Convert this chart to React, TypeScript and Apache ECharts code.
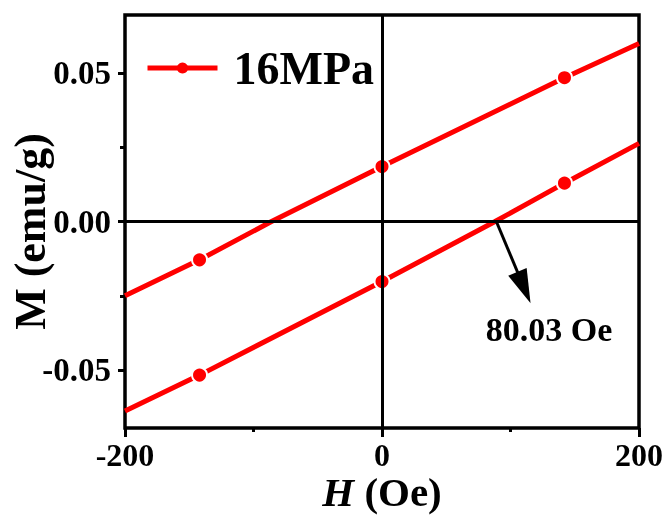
import React, { useEffect, useRef } from 'react';
import * as echarts from 'echarts';

// Hysteresis branches (H in Oe, M in emu/g)
const upperH = [-200, -142, -86, 0, 142, 200];
const upperM = [-0.025, -0.0129, 0, 0.0185, 0.0484, 0.0599];
const lowerH = [-200, -142, 0, 88, 142, 200];
const lowerM = [-0.0638, -0.0517, -0.0202, 0, 0.0129, 0.0263];
const markerH = [-142, 0, 142];
const seriesName = '16MPa';

const yTicks = [-0.05, 0, 0.05];
const yMinorTicks = [-0.025, 0.025];

const arrowStart = [89, 0];
const arrowEnd = [110.5, -0.0222];
const coercivityLabel = '80.03 Oe';

const FONT = "'Liberation Serif', 'Times New Roman', serif";

function branch(H: number[], M: number[]) {
  return H.map((h, i) =>
    markerH.includes(h) ? { value: [h, M[i]] } : { value: [h, M[i]], symbol: 'none' }
  );
}

export default function App() {
  const ref = useRef<HTMLDivElement>(null);
  useEffect(() => {
    if (!ref.current) return;
    const chart = echarts.init(ref.current, undefined, { renderer: 'svg' });
    const lineSeries = (data: any[]) => ({
      type: 'line',
      name: seriesName,
      data,
      z: 3,
      symbol: 'circle',
      symbolSize: 15,
      lineStyle: { color: '#ff0000', width: 5 },
      itemStyle: { color: '#ff0000', borderColor: '#ffffff', borderWidth: 2 },
      emphasis: { disabled: true },
    });
    chart.setOption({
      animation: false,
      grid: {
        left: 125,
        right: 30,
        top: 15,
        bottom: 87,
        show: true,
        borderColor: '#000',
        borderWidth: 3.5,
        containLabel: false,
        outerBoundsMode: 'none',
      },
      legend: {
        data: [seriesName],
        left: 140,
        top: 38,
        itemWidth: 70,
        itemHeight: 14,
        itemStyle: { borderWidth: 0 },
        lineStyle: { width: 5 },
        textStyle: {
          fontFamily: FONT,
          fontWeight: 'bold',
          fontSize: 46,
          lineHeight: 50,
          color: '#000',
          padding: [0, 0, 0, 11],
        },
      },
      xAxis: {
        type: 'value',
        min: -200,
        max: 200,
        interval: 200,
        axisLine: { show: false, onZero: false },
        splitLine: { show: false },
        axisTick: { show: true, length: 9, lineStyle: { color: '#000', width: 3 } },
        minorTick: { show: true, splitNumber: 2, length: 4, lineStyle: { color: '#000', width: 3 } },
        axisLabel: {
          fontFamily: FONT,
          fontWeight: 'bold',
          fontSize: 32,
          lineHeight: 30,
          color: '#000',
          margin: 12,
        },
        name: '{i|H} (Oe)',
        nameLocation: 'middle',
        nameGap: 46,
        nameMoveOverlap: false,
        nameTextStyle: {
          fontFamily: FONT,
          fontWeight: 'bold',
          fontSize: 41,
          lineHeight: 36,
          color: '#000',
          rich: {
            i: { fontFamily: FONT, fontWeight: 'bold', fontStyle: 'italic', fontSize: 41, lineHeight: 36, color: '#000' },
          },
        },
      },
      yAxis: [
        {
          type: 'value',
          min: -0.0695,
          max: 0.0695,
          position: 'left',
          axisLine: { show: false, onZero: false },
          splitLine: { show: false },
          axisTick: { show: true, customValues: yTicks, length: 7, lineStyle: { color: '#000', width: 3 } },
          axisLabel: {
            customValues: yTicks,
            formatter: (v: number) => v.toFixed(2),
            fontFamily: FONT,
            fontWeight: 'bold',
            fontSize: 33,
            color: '#000',
            margin: 14,
          },
          name: 'M (emu/g)',
          nameLocation: 'middle',
          nameGap: 73,
          nameMoveOverlap: false,
          nameTextStyle: {
            fontFamily: FONT,
            fontWeight: 'bold',
            fontSize: 44,
            color: '#000',
            padding: [0, 20, 0, 0],
          },
        },
        {
          type: 'value',
          min: -0.0695,
          max: 0.0695,
          position: 'left',
          axisLine: { show: false, onZero: false },
          splitLine: { show: false },
          axisLabel: { show: false },
          axisTick: { show: true, customValues: yMinorTicks, length: 5, lineStyle: { color: '#000', width: 3 } },
        },
      ],
      series: [
        {
          type: 'line',
          data: [],
          z: 1,
          silent: true,
          markLine: {
            silent: true,
            animation: false,
            symbol: ['none', 'none'],
            label: { show: false },
            lineStyle: { color: '#000', width: 3, type: 'solid' },
            emphasis: { disabled: true },
            data: [
              { xAxis: 0 },
              { yAxis: 0 },
              [
                { coord: arrowStart, symbol: 'none' },
                { coord: arrowEnd, symbol: 'triangle', symbolSize: [20, 34] },
              ],
            ],
          },
        },
        lineSeries(branch(upperH, upperM)),
        lineSeries(branch(lowerH, lowerM)),
      ],
      graphic: [
        {
          type: 'text',
          x: 549,
          y: 329,
          style: {
            text: coercivityLabel,
            fontFamily: FONT,
            fontWeight: 'bold',
            fontSize: 34,
            fill: '#000',
            textAlign: 'center',
            textVerticalAlign: 'middle',
          },
        },
      ],
    });
    return () => chart.dispose();
  }, []);
  return <div ref={ref} style={{ position: 'fixed', left: 0, top: 0, width: 669, height: 515 }} />;
}
